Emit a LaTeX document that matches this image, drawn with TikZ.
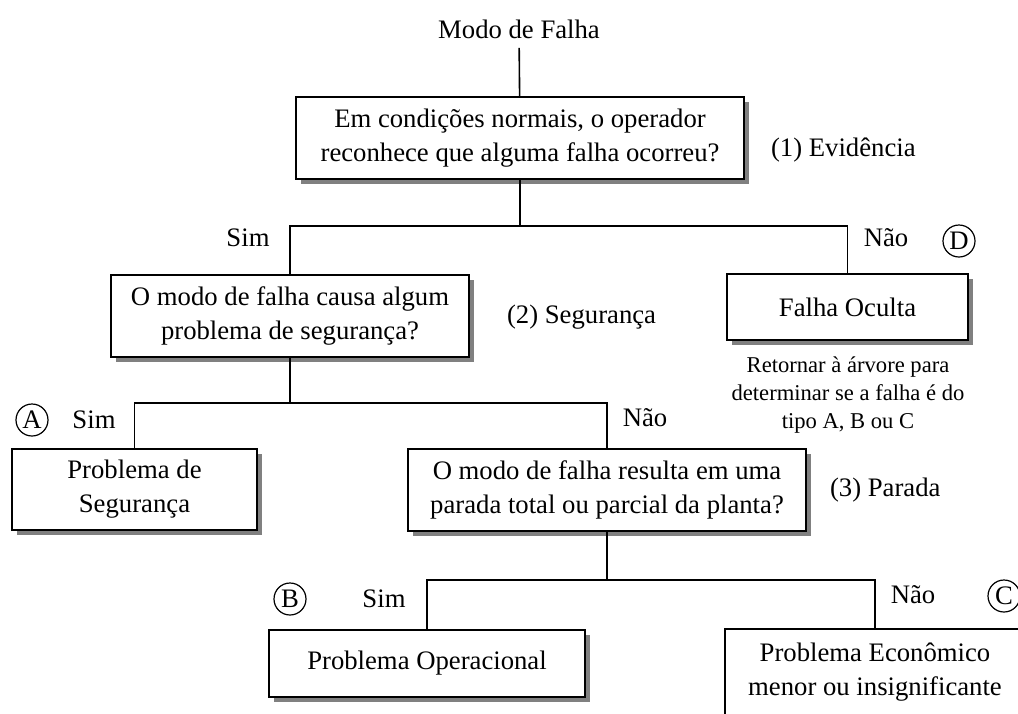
\documentclass[tikz,border=0pt]{standalone}
\usepackage{fontspec}
\setmainfont{Liberation Serif}
\usetikzlibrary{positioning,shadows}

\begin{document}
\begin{tikzpicture}[
  x=0.5pt, y=-0.5pt,
  font=\fontsize{13.35pt}{17pt}\selectfont,
  box/.style={draw, line width=1pt, fill=white, align=center, inner sep=0pt,
    drop shadow={shadow xshift=2.5pt, shadow yshift=-2.5pt, fill=black!50, opacity=1}},
  link/.style={line width=0.8pt},
  tag/.style={draw, circle, line width=0.6pt, inner sep=0pt, minimum size=16pt},
  note/.style={align=center, font=\fontsize{11.3pt}{14pt}\selectfont}
]
  \clip (0,0) rectangle (1018,713);

  \node[inner sep=4.5pt] (top) at (519,29) {Modo de Falha};
  \node[box, minimum width=224pt, minimum height=41pt] (evid) at (520,138)
    {Em condições normais, o operador\\reconhece que alguma falha ocorreu?};
  \node[anchor=west] (evlbl) at (764,150) {(1) Evidência};

  \node[box, minimum width=179pt, minimum height=41pt] (seg) at (290,316)
    {O modo de falha causa algum\\problema de segurança?};
  \node[anchor=west] (seglbl) at (500,317) {(2) Segurança};
  \node[box, minimum width=120.5pt, minimum height=33pt] (oculta) at (847.5,307) {Falha Oculta};
  \node[note] (retorno) at (848,395) {Retornar à árvore para\\determinar se a falha é do\\tipo A, B ou C};

  \node[box, minimum width=122.5pt, minimum height=40.5pt] (probseg) at (134.5,489.5)
    {Problema de\\Segurança};
  \node[box, minimum width=199pt, minimum height=41pt] (parada) at (607,490)
    {O modo de falha resulta em uma\\parada total ou parcial da planta?};
  \node[anchor=west] (parlbl) at (823,490) {(3) Parada};

  \node[box, minimum width=158pt, minimum height=33.5pt] (oper) at (427,663.5) {Problema Operacional};
  \node[box, minimum width=150pt, minimum height=43.5pt] (econ) at (875,672.5)
    {Problema Econômico\\menor ou insignificante};

  % ramos
  \coordinate (j1) at (520,226);
  \coordinate (j2) at (290,403);
  \coordinate (j3) at (607,580);
  \draw[link] (top) -- (evid);
  \draw[link] (evid) -- (j1);
  \draw[link] (seg.north) |- (j1) -| (oculta.north);
  \draw[link] (seg) -- (j2);
  \draw[link] (probseg.north) |- (j2) -| (parada.north);
  \draw[link] (parada) -- (j3);
  \draw[link] (oper.north) |- (j3) -| (econ.north);

  % respostas
  \node (sim1) at (248,238) {Sim};
  \node (nao1) at (886,238) {Não};
  \node[tag] (tagD) at (959,241) {D};
  \node (sim2) at (94,420) {Sim};
  \node[tag] (tagA) at (32,420) {A};
  \node (nao2) at (645,418) {Não};
  \node (sim3) at (384,599) {Sim};
  \node[tag] (tagB) at (290,599) {B};
  \node (nao3) at (913,595) {Não};
  \node[tag] (tagC) at (1004,596) {C};
\end{tikzpicture}
\end{document}
